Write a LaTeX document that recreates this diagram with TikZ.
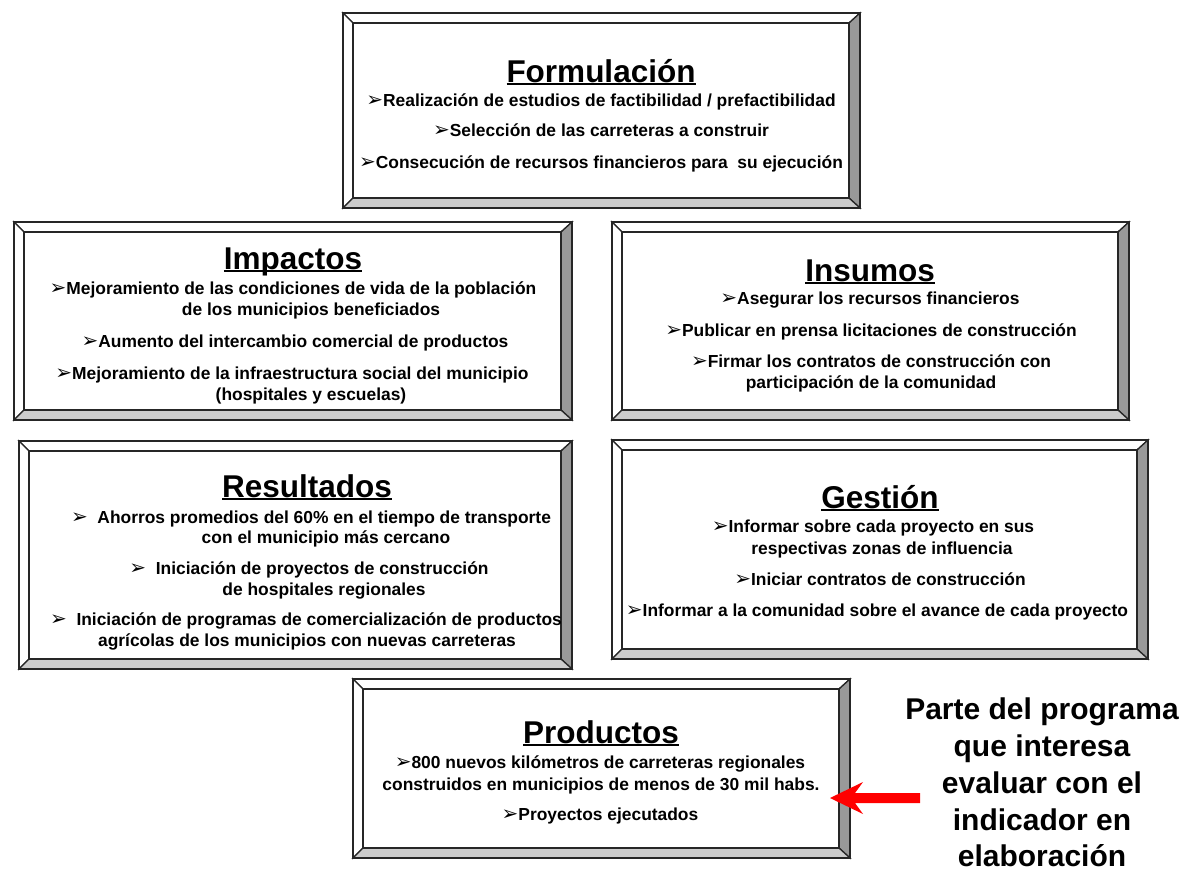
\documentclass[tikz,border=0pt]{standalone}
\usepackage{fontspec}
\setmainfont{Liberation Sans}
\newfontfamily\symfont{DejaVu Sans}
\newcommand\myul[1]{\setbox0\hbox{#1}\rlap{\rule[-3.4pt]{\wd0}{2.2pt}}\box0}
\newcommand\bl{{\symfont\fontsize{20}{20}\selectfont\raisebox{-0.5pt}{➢}}}
\definecolor{bevdark}{HTML}{999999}
\definecolor{bevlight}{HTML}{CCCCCC}
\newcommand\bevbox[5]{%
  \coordinate (#1-nw) at (#2,#3);
  \coordinate (#1-se) at (#4,#5);
  \filldraw[bevel,fill=white] (#2,#3) -- (#4,#3) -- (#4-11,#3+10) -- (#2+10,#3+10) -- cycle;
  \filldraw[bevel,fill=white] (#2,#3) -- (#2+10,#3+10) -- (#2+10,#5-10) -- (#2,#5) -- cycle;
  \filldraw[bevel,fill=bevdark] (#4,#3) -- (#4,#5) -- (#4-11,#5-10) -- (#4-11,#3+10) -- cycle;
  \filldraw[bevel,fill=bevlight] (#2,#5) -- (#4,#5) -- (#4-11,#5-10) -- (#2+10,#5-10) -- cycle;
  \filldraw[bevel,fill=white] (#2+10,#3+10) rectangle (#4-11,#5-10);
  \draw[bevel] (#2,#3) rectangle (#4,#5);
}
\begin{document}
\begin{tikzpicture}[x=1pt,y=-1pt,
  bevel/.style={line width=1.3pt,line join=miter,draw=black!85},
  txt/.style={font=\bfseries\fontsize{17.4}{20}\selectfont,inner sep=0pt,anchor=base},
  ttl/.style={font=\bfseries\fontsize{31.5}{36}\selectfont,inner sep=0pt,anchor=base},
  big/.style={font=\bfseries\fontsize{30}{36}\selectfont,inner sep=0pt,anchor=base}]
\useasboundingbox (0,0) rectangle (1201,871);
\fill[white] (0,0) rectangle (1201,871);

% boxes
\bevbox{form}{343}{13}{860}{208}
\bevbox{imp}{14}{222}{572}{420}
\bevbox{ins}{612}{222}{1129}{420}
\bevbox{res}{19}{441}{572}{669}
\bevbox{ges}{612}{440}{1148}{659}
\bevbox{prod}{353}{679}{850}{858}

% Formulacion
\node[ttl] (f0) at (601,82) {\myul{Formulación}};
\node[txt] (f1) at (601,106) {\bl Realización de estudios de factibilidad / prefactibilidad};
\node[txt] (f2) at (601,136) {\bl Selección de las carreteras a construir};
\node[txt] (f3) at (601,168) {\bl Consecución de recursos financieros para\ \ su ejecución};

% Impactos
\node[ttl] (i0) at (293,269) {\myul{Impactos}};
\node[txt] (i1) at (293,294) {\bl Mejoramiento de las condiciones de vida de la población};
\node[txt] (i2) at (311,315) {de los municipios beneficiados};
\node[txt] (i3) at (295,347) {\bl Aumento del intercambio comercial de productos};
\node[txt] (i4) at (292,379) {\bl Mejoramiento de la infraestructura social del municipio};
\node[txt] (i5) at (311,400) {(hospitales y escuelas)};

% Insumos
\node[ttl] (n0) at (870,281) {\myul{Insumos}};
\node[txt] (n1) at (870,304) {\bl Asegurar los recursos financieros};
\node[txt] (n2) at (871,336) {\bl Publicar en prensa licitaciones de construcción};
\node[txt] (n3) at (871,367) {\bl Firmar los contratos de construcción con};
\node[txt] (n4) at (871,388) {participación de la comunidad};

% Resultados
\node[ttl] (r0) at (307,497) {\myul{Resultados}};
\node[txt] (r1) at (311,523) {\bl\ \ Ahorros promedios del 60\% en el tiempo de transporte};
\node[txt] (r2) at (326,543) {con el municipio más cercano};
\node[txt] (r3) at (309,574) {\bl\ \ Iniciación de proyectos de construcción};
\node[txt] (r4) at (324,595) {de hospitales regionales};
\node[txt] (r5) at (306,625) {\bl\ \ Iniciación de programas de comercialización de productos};
\node[txt] (r6) at (307,646) {agrícolas de los municipios con nuevas carreteras};

% Gestion
\node[ttl] (g0) at (880,508) {\myul{Gestión}};
\node[txt] (g1) at (873,532) {\bl Informar sobre cada proyecto en sus};
\node[txt] (g2) at (882,554) {respectivas zonas de influencia};
\node[txt] (g3) at (880,585) {\bl Iniciar contratos de construcción};
\node[txt] (g4) at (877,616) {\bl Informar a la comunidad sobre el avance de cada proyecto};

% Productos
\node[ttl] (p0) at (601,743) {\myul{Productos}};
\node[txt] (p1) at (600,768) {\bl 800 nuevos kilómetros de carreteras regionales};
\node[txt] (p2) at (601,790) {construidos en municipios de menos de 30 mil habs.};
\node[txt] (p3) at (600,820) {\bl Proyectos ejecutados};

% right label
\node[big] (l1) at (1042,719) {Parte del programa};
\node[big] (l2) at (1042,756) {que interesa};
\node[big] (l3) at (1042,793) {evaluar con el};
\node[big] (l4) at (1042,830) {indicador en};
\node[big] (l5) at (1042,866) {elaboración};

% red arrow
\coordinate (tip) at (830,798);
\fill[red] (tip) -- (863,782) -- (855,793) -- (920,793) -- (920,803) -- (855,803) -- (863,814) -- cycle;
\end{tikzpicture}
\end{document}
